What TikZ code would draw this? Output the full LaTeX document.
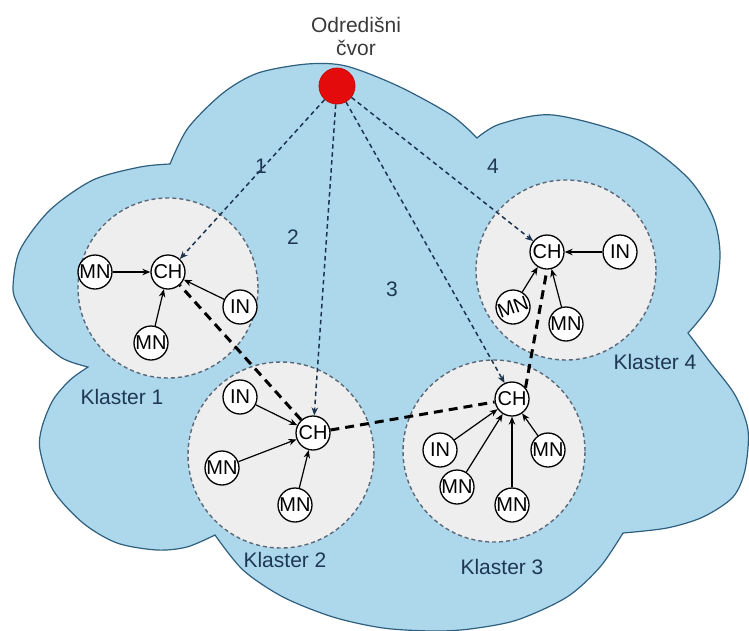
\documentclass[tikz,border=0pt]{standalone}
\usepackage{fontspec}
\setmainfont{Liberation Sans}
\usetikzlibrary{arrows.meta}
\definecolor{cloudfill}{HTML}{ADD8EC}
\definecolor{cloudline}{HTML}{2F5F7E}
\definecolor{clusterfill}{HTML}{EEEEEE}
\definecolor{clusterline}{HTML}{5A6878}
\definecolor{labelcol}{HTML}{1E3852}
\definecolor{linkcol}{HTML}{1B3550}
\definecolor{titlecol}{HTML}{3A3A3A}
\definecolor{destred}{HTML}{E30B0B}
\begin{document}
\begin{tikzpicture}[x=1pt,y=-1pt,
  sensor/.style={circle, draw=black, line width=1.3pt, fill=white, minimum size=34pt, inner sep=0pt, font=\fontsize{20}{20}\selectfont},
  cluster/.style={circle, draw=clusterline, fill=clusterfill, dash pattern=on 4pt off 3pt, line width=1.4pt, inner sep=0pt},
  member/.style={-{Stealth[length=8pt,width=6.5pt]}, line width=1.2pt, black},
  route/.style={-{Stealth[length=8pt,width=6.5pt]}, line width=1.5pt, linkcol, dash pattern=on 4.5pt off 3.5pt},
  backbone/.style={line width=3pt, black, dash pattern=on 9pt off 6pt},
  lbl/.style={font=\fontsize{21}{21}\selectfont, text=labelcol, inner sep=0pt},
  ttl/.style={font=\fontsize{21}{21}\selectfont, text=titlecol, inner sep=0pt, anchor=base}
]
\useasboundingbox (0,0) rectangle (749,630);

% cloud
\filldraw[fill=cloudfill, draw=cloudline, line width=1.2pt]
  plot[smooth] coordinates {(170,164) (188,128) (223,93) (258,73) (307,64) (346,66) (398,86) (451,115) (477,138)}
  -- plot[smooth] coordinates {(477,138) (500,124) (553,115) (633,137) (687,177) (713,217) (720,255) (713,300) (688,333)}
  -- plot[smooth] coordinates {(688,333) (710,362) (735,395) (748,430) (745,470) (733,497) (703,517) (667,528) (623,533)}
  -- plot[smooth] coordinates {(623,533) (600,567) (567,597) (517,620) (470,629) (433,631) (383,628) (333,617) (283,597) (243,570) (215,535)}
  -- plot[smooth] coordinates {(215,535) (187,547) (157,550) (117,543) (83,523) (53,490) (40,450) (42,427) (53,400) (70,380) (88,367)}
  -- plot[smooth] coordinates {(88,367) (62,358) (36,335) (18,305) (13,287) (20,250) (50,210) (93,180) (140,167) (170,164)}
  -- cycle;

% title
\node[ttl] (t1) at (356,32) {Odredišni};
\node[ttl] (t2) at (356,55) {čvor};

% destination
\node[circle, fill=destred, draw=destred!85!black, line width=0.8pt, minimum size=36pt, inner sep=0pt] (dest) at (337,86) {};

% clusters
\node[cluster, minimum size=180pt] (k1) at (168,288) {};
\node[cluster, minimum size=186pt] (k2) at (281,455) {};
\node[cluster, minimum size=182pt] (k3) at (494,451) {};
\node[cluster, minimum size=180pt] (k4) at (566,270) {};

\node[lbl] (l1) at (122,397) {Klaster 1};
\node[lbl] (l2) at (285,560) {Klaster 2};
\node[lbl] (l3) at (502,567) {Klaster 3};
\node[lbl] (l4) at (655,362) {Klaster 4};

\node[lbl] (n1) at (261,166) {1};
\node[lbl] (n2) at (293,237) {2};
\node[lbl] (n3) at (392,289) {3};
\node[lbl] (n4) at (493,166) {4};

% sensors
\node[sensor] (ch1) at (168,272) {CH};
\node[sensor] (mn1a) at (95,272) {MN};
\node[sensor] (in1) at (240,307) {IN};
\node[sensor] (mn1b) at (151,343) {MN};

\node[sensor] (ch2) at (313,433) {CH};
\node[sensor] (in2) at (240,397) {IN};
\node[sensor] (mn2a) at (222,468) {MN};
\node[sensor] (mn2b) at (295,505) {MN};

\node[sensor] (ch3) at (512,399) {CH};
\node[sensor] (in3) at (440,450) {IN};
\node[sensor] (mn3a) at (457,487) {MN};
\node[sensor] (mn3b) at (512,505) {MN};
\node[sensor] (mn3c) at (548,450) {MN};

\node[sensor] (ch4) at (547,252) {CH};
\node[sensor] (in4) at (620,252) {IN};
\node[sensor, rotate=20] (mn4a) at (513,307) {MN};
\node[sensor] (mn4b) at (566,324) {MN};

% members
\draw[member] (mn1a) -- (ch1);
\draw[member] (in1) -- (ch1);
\draw[member] (mn1b) -- (ch1);
\draw[member] (in2) -- (ch2);
\draw[member] (mn2a) -- (ch2);
\draw[member] (mn2b) -- (ch2);
\draw[member] (in3) -- (ch3);
\draw[member] (mn3a) -- (ch3);
\draw[member] (mn3b) -- (ch3);
\draw[member] (mn3c) -- (ch3);
\draw[member] (in4) -- (ch4);
\draw[member] (mn4a) -- (ch4);
\draw[member] (mn4b) -- (ch4);

% backbone
\draw[backbone] (ch2) -- (ch1);
\draw[backbone] (ch2) -- (ch3);
\draw[backbone] (ch3.40) -- (ch4.270);

% routes from destination
\draw[route] (dest) -- (ch1);
\draw[route] (dest) -- (ch2);
\draw[route] (dest) -- (ch3.115);
\draw[route] (dest) -- (ch4);
\end{tikzpicture}
\end{document}
